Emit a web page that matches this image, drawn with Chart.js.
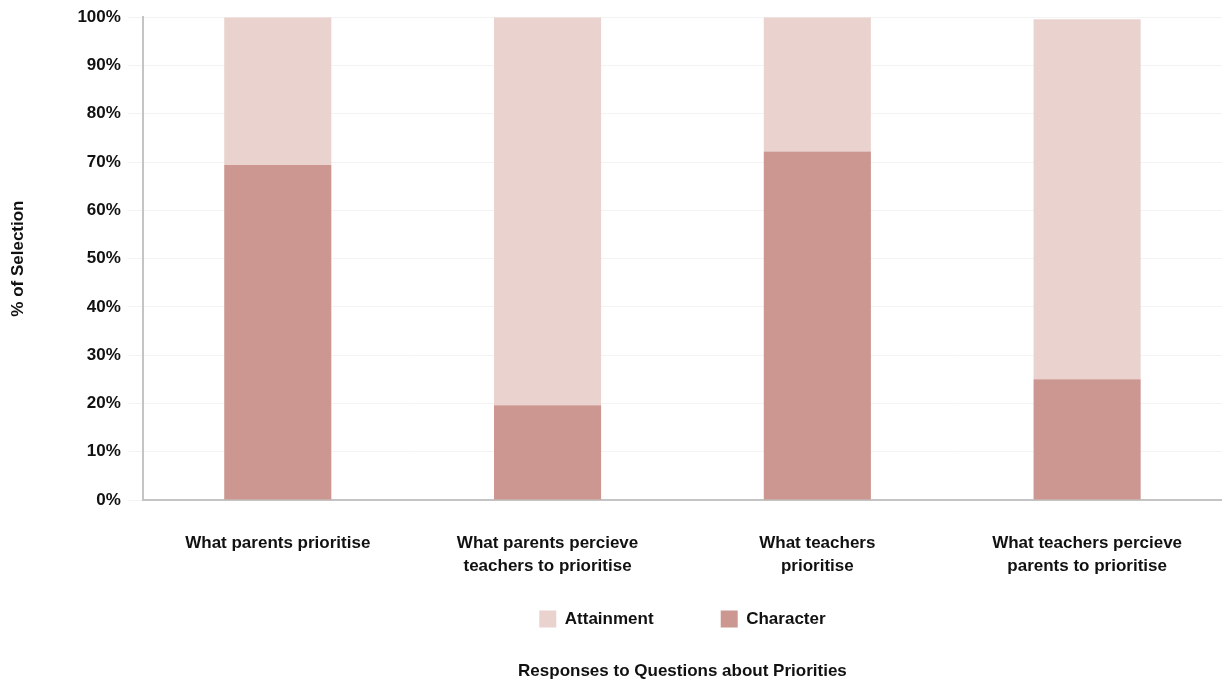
<!DOCTYPE html>
<html lang="en">
<head>
    <meta charset="UTF-8">
    <title>Responses to Questions about Priorities</title>
    <script src="https://cdn.jsdelivr.net/npm/chart.js"></script>
    <style>
        html, body {
            margin: 0;
            padding: 0;
            background: #fff;
        }
        .chart-container {
            width: 1222px;
            height: 684px;
            position: relative;
        }
    </style>
</head>
<body>
    <div class="chart-container">
        <canvas id="priorityChart"></canvas>
    </div>

    <script>
        // Data
        const categories = [
            ['What parents prioritise'],
            ['What parents percieve', 'teachers to prioritise'],
            ['What teachers', 'prioritise'],
            ['What teachers percieve', 'parents to prioritise']
        ];
        const character = [69.4, 19.6, 72.2, 25.0];
        const attainment = [30.6, 80.4, 27.8, 74.6];
        const seriesNames = ['Attainment', 'Character'];

        const fontFamily = '"Liberation Sans", Arial, sans-serif';
        const textColor = '#111';
        const labelFont = { family: fontFamily, size: 17, weight: 'bold' };

        const ctx = document.getElementById('priorityChart').getContext('2d');
        new Chart(ctx, {
            type: 'bar',
            data: {
                labels: categories,
                datasets: [
                    {
                        label: seriesNames[1],
                        data: character,
                        backgroundColor: '#cc9791'
                    },
                    {
                        label: seriesNames[0],
                        data: attainment,
                        backgroundColor: '#ead3cf'
                    }
                ]
            },
            options: {
                responsive: true,
                maintainAspectRatio: false,
                animation: false,
                categoryPercentage: 0.5,
                barPercentage: 0.794,
                layout: {
                    padding: { top: 7, right: 0, left: 8, bottom: 0 }
                },
                plugins: {
                    legend: {
                        position: 'bottom',
                        fullSize: false,
                        reverse: true,
                        labels: {
                            boxWidth: 17,
                            boxHeight: 17,
                            padding: 1,
                            color: textColor,
                            font: labelFont,
                            // wider gap between the two legend entries
                            generateLabels: chart => {
                                const items = Chart.defaults.plugins.legend.labels.generateLabels(chart);
                                items.forEach(it => {
                                    if (it.text === seriesNames[0]) it.text = it.text + ' '.repeat(14);
                                });
                                return items;
                            }
                        }
                    },
                    title: {
                        display: true,
                        position: 'bottom',
                        fullSize: false,
                        text: 'Responses to Questions about Priorities',
                        color: textColor,
                        padding: { top: 24, bottom: 2 },
                        font: labelFont
                    },
                    tooltip: { enabled: false }
                },
                scales: {
                    x: {
                        stacked: true,
                        grid: { display: false, drawTicks: false },
                        border: { color: '#c4c4c4', width: 2 },
                        ticks: {
                            padding: 31,
                            color: textColor,
                            maxRotation: 0,
                            font: { family: fontFamily, size: 17, weight: 'bold', lineHeight: 1.4 }
                        }
                    },
                    y: {
                        stacked: true,
                        min: 0,
                        max: 100,
                        grid: { color: '#f3f3f3', tickLength: 15 },
                        border: { color: '#c4c4c4', width: 2 },
                        ticks: {
                            stepSize: 10,
                            padding: 7,
                            color: textColor,
                            font: labelFont,
                            callback: v => v + '%'
                        },
                        title: {
                            display: true,
                            text: '% of Selection',
                            color: textColor,
                            padding: { top: 0, bottom: 42 },
                            font: labelFont
                        }
                    }
                }
            }
        });
    </script>
</body>
</html>
